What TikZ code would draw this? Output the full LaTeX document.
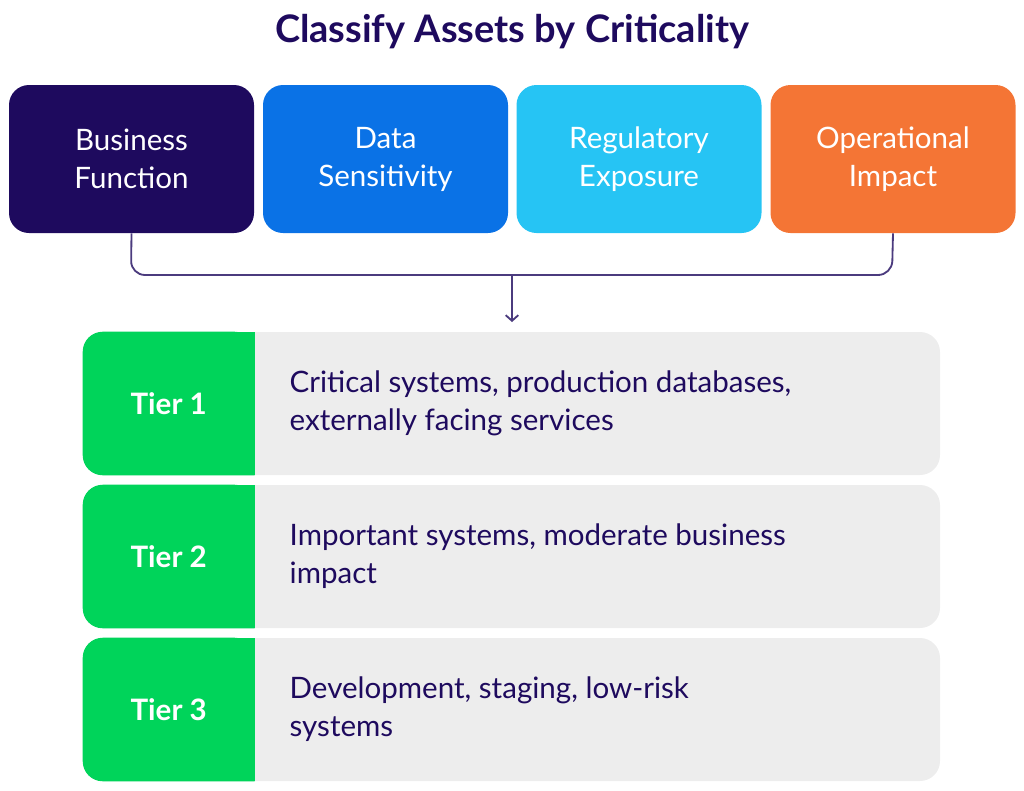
\documentclass[tikz,border=0pt]{standalone}
\usepackage{fontspec}
\setmainfont{Lato}
\usetikzlibrary{positioning, calc, arrows.meta}

\definecolor{navy}{HTML}{1E0A5E}
\definecolor{bluea}{HTML}{0A72E6}
\definecolor{blueb}{HTML}{26C4F4}
\definecolor{orng}{HTML}{F47535}
\definecolor{grn}{HTML}{00D45A}
\definecolor{lgray}{HTML}{EDEDED}

\tikzset{
  factor/.style={rounded corners=20*0.025cm, minimum width=245*0.025cm, minimum height=148*0.025cm,
    text=white, align=center, font=\fontsize{21}{27}\selectfont},
  tierbox/.style={rounded corners=20*0.025cm, fill=lgray, minimum width=857*0.025cm, minimum height=143*0.025cm},
  tierlabel/.style={text=white, font=\fontsize{21}{27}\selectfont\bfseries},
  tiertext/.style={text=navy, align=left, anchor=west, font=\fontsize{21}{27}\selectfont}
}

\begin{document}
\begin{tikzpicture}[x=0.025cm, y=-0.025cm]
        \useasboundingbox (0,0) rectangle (1024,790);

        % title
        \node[text=navy, font=\fontsize{27}{32}\selectfont\bfseries] (title) at (512,32) {Classify Assets by Criticality};

        % the four factors
        \node[factor, fill=navy]  (business)    at (131.5,159) {Business\\Function};
        \node[factor, fill=bluea] (data)        at (385.5,159) {Data\\Sensitivity};
        \node[factor, fill=blueb] (regulatory)  at (639,159)   {Regulatory\\Exposure};
        \node[factor, fill=orng]  (operational) at (893,159)   {Operational\\Impact};

        % bracket and arrow
        \coordinate (join) at (512,275);
        \coordinate (tip)  at (512,322);
        \draw[navy!80, line width=1.3pt, rounded corners=14*0.025cm]
            (business.south) -- (131,275) -- (892,275) -- (operational.south);
        \draw[navy!80, line width=1.3pt, -{Straight Barb[length=4pt,width=9pt]}] (join) -- (tip);

        % the tiers
        \foreach \i/\y/\txt in {1/403.5/{Critical systems, production databases,\\externally facing services},
                                2/556.5/{Important systems, moderate business\\impact},
                                3/709.5/{Development, staging, low-risk\\systems}} {
            \node[tierbox] (tier\i) at (511.5,\y) {};
            \fill[grn, rounded corners=20*0.025cm] (tier\i.north west) -- ($(tier\i.north west)+(172,0)$) [sharp corners]
                -- ($(tier\i.south west)+(172,0)$) [rounded corners=20*0.025cm] -- (tier\i.south west) -- cycle;
            \fill[grn] ($(tier\i.north west)+(150,0)$) rectangle ($(tier\i.south west)+(172,0)$);
            \node[tierlabel] (label\i) at ($(tier\i.west)+(86,0)$) {Tier \i};
            \node[tiertext] (text\i) at ($(tier\i.west)+(202,0)$) {\txt};
        }
\end{tikzpicture}
\end{document}
